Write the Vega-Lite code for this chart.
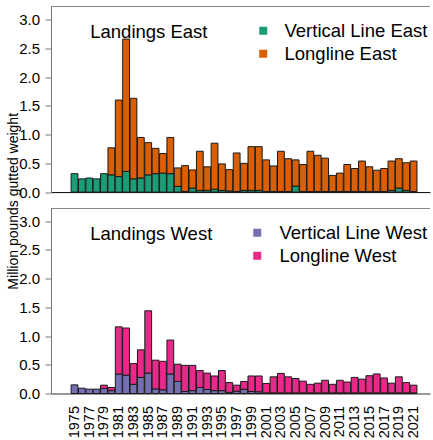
{
  "$schema": "https://vega.github.io/schema/vega-lite/v6.json",
  "padding": {"left": 6, "top": 5.5, "right": 0, "bottom": 0},
  "bounds": "flush",
  "spacing": 16,
  "config": {
    "view": {"stroke": null},
    "font": "Liberation Sans",
    "axis": {"grid": false, "labelColor": "#000", "titleColor": "#000", "titleFontWeight": "normal"}
  },
  "datasets": {
    "east": [
      {"year": 1975, "gear": "Vertical Line East", "value": 0.32},
      {"year": 1976, "gear": "Vertical Line East", "value": 0.23},
      {"year": 1977, "gear": "Vertical Line East", "value": 0.245},
      {"year": 1978, "gear": "Vertical Line East", "value": 0.23},
      {"year": 1979, "gear": "Vertical Line East", "value": 0.32},
      {"year": 1980, "gear": "Vertical Line East", "value": 0.30},
      {"year": 1980, "gear": "Longline East", "value": 0.47},
      {"year": 1981, "gear": "Vertical Line East", "value": 0.27},
      {"year": 1981, "gear": "Longline East", "value": 1.33},
      {"year": 1982, "gear": "Vertical Line East", "value": 0.36},
      {"year": 1982, "gear": "Longline East", "value": 2.30},
      {"year": 1983, "gear": "Vertical Line East", "value": 0.23},
      {"year": 1983, "gear": "Longline East", "value": 1.40},
      {"year": 1984, "gear": "Vertical Line East", "value": 0.245},
      {"year": 1984, "gear": "Longline East", "value": 0.705},
      {"year": 1985, "gear": "Vertical Line East", "value": 0.30},
      {"year": 1985, "gear": "Longline East", "value": 0.56},
      {"year": 1986, "gear": "Vertical Line East", "value": 0.32},
      {"year": 1986, "gear": "Longline East", "value": 0.44},
      {"year": 1987, "gear": "Vertical Line East", "value": 0.33},
      {"year": 1987, "gear": "Longline East", "value": 0.34},
      {"year": 1988, "gear": "Vertical Line East", "value": 0.32},
      {"year": 1988, "gear": "Longline East", "value": 0.63},
      {"year": 1989, "gear": "Vertical Line East", "value": 0.10},
      {"year": 1989, "gear": "Longline East", "value": 0.32},
      {"year": 1990, "gear": "Vertical Line East", "value": 0.01},
      {"year": 1990, "gear": "Longline East", "value": 0.45},
      {"year": 1991, "gear": "Vertical Line East", "value": 0.07},
      {"year": 1991, "gear": "Longline East", "value": 0.315},
      {"year": 1992, "gear": "Vertical Line East", "value": 0.03},
      {"year": 1992, "gear": "Longline East", "value": 0.68},
      {"year": 1993, "gear": "Vertical Line East", "value": 0.03},
      {"year": 1993, "gear": "Longline East", "value": 0.41},
      {"year": 1994, "gear": "Vertical Line East", "value": 0.05},
      {"year": 1994, "gear": "Longline East", "value": 0.80},
      {"year": 1995, "gear": "Vertical Line East", "value": 0.03},
      {"year": 1995, "gear": "Longline East", "value": 0.46},
      {"year": 1996, "gear": "Vertical Line East", "value": 0.02},
      {"year": 1996, "gear": "Longline East", "value": 0.37},
      {"year": 1997, "gear": "Vertical Line East", "value": 0.01},
      {"year": 1997, "gear": "Longline East", "value": 0.67},
      {"year": 1998, "gear": "Vertical Line East", "value": 0.03},
      {"year": 1998, "gear": "Longline East", "value": 0.47},
      {"year": 1999, "gear": "Vertical Line East", "value": 0.03},
      {"year": 1999, "gear": "Longline East", "value": 0.76},
      {"year": 2000, "gear": "Vertical Line East", "value": 0.03},
      {"year": 2000, "gear": "Longline East", "value": 0.76},
      {"year": 2001, "gear": "Vertical Line East", "value": 0.01},
      {"year": 2001, "gear": "Longline East", "value": 0.55},
      {"year": 2002, "gear": "Vertical Line East", "value": 0.01},
      {"year": 2002, "gear": "Longline East", "value": 0.445},
      {"year": 2003, "gear": "Vertical Line East", "value": 0.01},
      {"year": 2003, "gear": "Longline East", "value": 0.70},
      {"year": 2004, "gear": "Vertical Line East", "value": 0.01},
      {"year": 2004, "gear": "Longline East", "value": 0.57},
      {"year": 2005, "gear": "Vertical Line East", "value": 0.105},
      {"year": 2005, "gear": "Longline East", "value": 0.455},
      {"year": 2006, "gear": "Vertical Line East", "value": 0.01},
      {"year": 2006, "gear": "Longline East", "value": 0.47},
      {"year": 2007, "gear": "Vertical Line East", "value": 0.01},
      {"year": 2007, "gear": "Longline East", "value": 0.70},
      {"year": 2008, "gear": "Vertical Line East", "value": 0.01},
      {"year": 2008, "gear": "Longline East", "value": 0.63},
      {"year": 2009, "gear": "Vertical Line East", "value": 0.01},
      {"year": 2009, "gear": "Longline East", "value": 0.58},
      {"year": 2010, "gear": "Vertical Line East", "value": 0.01},
      {"year": 2010, "gear": "Longline East", "value": 0.28},
      {"year": 2011, "gear": "Vertical Line East", "value": 0.01},
      {"year": 2011, "gear": "Longline East", "value": 0.32},
      {"year": 2012, "gear": "Vertical Line East", "value": 0.01},
      {"year": 2012, "gear": "Longline East", "value": 0.47},
      {"year": 2013, "gear": "Vertical Line East", "value": 0.01},
      {"year": 2013, "gear": "Longline East", "value": 0.40},
      {"year": 2014, "gear": "Vertical Line East", "value": 0.01},
      {"year": 2014, "gear": "Longline East", "value": 0.53},
      {"year": 2015, "gear": "Vertical Line East", "value": 0.01},
      {"year": 2015, "gear": "Longline East", "value": 0.43},
      {"year": 2016, "gear": "Vertical Line East", "value": 0.01},
      {"year": 2016, "gear": "Longline East", "value": 0.37},
      {"year": 2017, "gear": "Vertical Line East", "value": 0.01},
      {"year": 2017, "gear": "Longline East", "value": 0.40},
      {"year": 2018, "gear": "Vertical Line East", "value": 0.03},
      {"year": 2018, "gear": "Longline East", "value": 0.51},
      {"year": 2019, "gear": "Vertical Line East", "value": 0.07},
      {"year": 2019, "gear": "Longline East", "value": 0.51},
      {"year": 2020, "gear": "Vertical Line East", "value": 0.03},
      {"year": 2020, "gear": "Longline East", "value": 0.48},
      {"year": 2021, "gear": "Vertical Line East", "value": 0.01},
      {"year": 2021, "gear": "Longline East", "value": 0.53}
    ],
    "west": [
      {"year": 1975, "gear": "Vertical Line West", "value": 0.15},
      {"year": 1976, "gear": "Vertical Line West", "value": 0.093},
      {"year": 1977, "gear": "Vertical Line West", "value": 0.076},
      {"year": 1978, "gear": "Vertical Line West", "value": 0.076},
      {"year": 1979, "gear": "Vertical Line West", "value": 0.087},
      {"year": 1979, "gear": "Longline West", "value": 0.058},
      {"year": 1980, "gear": "Vertical Line West", "value": 0.05},
      {"year": 1980, "gear": "Longline West", "value": 0.055},
      {"year": 1981, "gear": "Vertical Line West", "value": 0.34},
      {"year": 1981, "gear": "Longline West", "value": 0.82},
      {"year": 1982, "gear": "Vertical Line West", "value": 0.32},
      {"year": 1982, "gear": "Longline West", "value": 0.82},
      {"year": 1983, "gear": "Vertical Line West", "value": 0.16},
      {"year": 1983, "gear": "Longline West", "value": 0.36},
      {"year": 1984, "gear": "Vertical Line West", "value": 0.28},
      {"year": 1984, "gear": "Longline West", "value": 0.48},
      {"year": 1985, "gear": "Vertical Line West", "value": 0.355},
      {"year": 1985, "gear": "Longline West", "value": 1.085},
      {"year": 1986, "gear": "Vertical Line West", "value": 0.08},
      {"year": 1986, "gear": "Longline West", "value": 0.50},
      {"year": 1987, "gear": "Vertical Line West", "value": 0.064},
      {"year": 1987, "gear": "Longline West", "value": 0.496},
      {"year": 1988, "gear": "Vertical Line West", "value": 0.34},
      {"year": 1988, "gear": "Longline West", "value": 0.59},
      {"year": 1989, "gear": "Vertical Line West", "value": 0.21},
      {"year": 1989, "gear": "Longline West", "value": 0.30},
      {"year": 1990, "gear": "Vertical Line West", "value": 0.035},
      {"year": 1990, "gear": "Longline West", "value": 0.455},
      {"year": 1991, "gear": "Vertical Line West", "value": 0.05},
      {"year": 1991, "gear": "Longline West", "value": 0.44},
      {"year": 1992, "gear": "Vertical Line West", "value": 0.105},
      {"year": 1992, "gear": "Longline West", "value": 0.295},
      {"year": 1993, "gear": "Vertical Line West", "value": 0.07},
      {"year": 1993, "gear": "Longline West", "value": 0.285},
      {"year": 1994, "gear": "Vertical Line West", "value": 0.05},
      {"year": 1994, "gear": "Longline West", "value": 0.255},
      {"year": 1995, "gear": "Vertical Line West", "value": 0.05},
      {"year": 1995, "gear": "Longline West", "value": 0.35},
      {"year": 1996, "gear": "Vertical Line West", "value": 0.02},
      {"year": 1996, "gear": "Longline West", "value": 0.17},
      {"year": 1997, "gear": "Vertical Line West", "value": 0.04},
      {"year": 1997, "gear": "Longline West", "value": 0.105},
      {"year": 1998, "gear": "Vertical Line West", "value": 0.075},
      {"year": 1998, "gear": "Longline West", "value": 0.135},
      {"year": 1999, "gear": "Vertical Line West", "value": 0.035},
      {"year": 1999, "gear": "Longline West", "value": 0.27},
      {"year": 2000, "gear": "Vertical Line West", "value": 0.03},
      {"year": 2000, "gear": "Longline West", "value": 0.275},
      {"year": 2001, "gear": "Vertical Line West", "value": 0.01},
      {"year": 2001, "gear": "Longline West", "value": 0.165},
      {"year": 2002, "gear": "Vertical Line West", "value": 0.01},
      {"year": 2002, "gear": "Longline West", "value": 0.28},
      {"year": 2003, "gear": "Vertical Line West", "value": 0.01},
      {"year": 2003, "gear": "Longline West", "value": 0.34},
      {"year": 2004, "gear": "Vertical Line West", "value": 0.01},
      {"year": 2004, "gear": "Longline West", "value": 0.28},
      {"year": 2005, "gear": "Vertical Line West", "value": 0.01},
      {"year": 2005, "gear": "Longline West", "value": 0.25},
      {"year": 2006, "gear": "Vertical Line West", "value": 0.01},
      {"year": 2006, "gear": "Longline West", "value": 0.205},
      {"year": 2007, "gear": "Vertical Line West", "value": 0.01},
      {"year": 2007, "gear": "Longline West", "value": 0.15},
      {"year": 2008, "gear": "Vertical Line West", "value": 0.01},
      {"year": 2008, "gear": "Longline West", "value": 0.17},
      {"year": 2009, "gear": "Vertical Line West", "value": 0.01},
      {"year": 2009, "gear": "Longline West", "value": 0.22},
      {"year": 2010, "gear": "Vertical Line West", "value": 0.01},
      {"year": 2010, "gear": "Longline West", "value": 0.15},
      {"year": 2011, "gear": "Vertical Line West", "value": 0.01},
      {"year": 2011, "gear": "Longline West", "value": 0.22},
      {"year": 2012, "gear": "Vertical Line West", "value": 0.01},
      {"year": 2012, "gear": "Longline West", "value": 0.19},
      {"year": 2013, "gear": "Vertical Line West", "value": 0.01},
      {"year": 2013, "gear": "Longline West", "value": 0.27},
      {"year": 2014, "gear": "Vertical Line West", "value": 0.01},
      {"year": 2014, "gear": "Longline West", "value": 0.24},
      {"year": 2015, "gear": "Vertical Line West", "value": 0.01},
      {"year": 2015, "gear": "Longline West", "value": 0.30},
      {"year": 2016, "gear": "Vertical Line West", "value": 0.01},
      {"year": 2016, "gear": "Longline West", "value": 0.33},
      {"year": 2017, "gear": "Vertical Line West", "value": 0.01},
      {"year": 2017, "gear": "Longline West", "value": 0.26},
      {"year": 2018, "gear": "Vertical Line West", "value": 0.01},
      {"year": 2018, "gear": "Longline West", "value": 0.17},
      {"year": 2019, "gear": "Vertical Line West", "value": 0.01},
      {"year": 2019, "gear": "Longline West", "value": 0.28},
      {"year": 2020, "gear": "Vertical Line West", "value": 0.01},
      {"year": 2020, "gear": "Longline West", "value": 0.18},
      {"year": 2021, "gear": "Vertical Line West", "value": 0.01},
      {"year": 2021, "gear": "Longline West", "value": 0.135}
    ]
  },
  "vconcat": [
    {
      "width": 379,
      "height": 185.6,
      "layer": [
        {
          "data": {"name": "east"},
          "mark": {"type": "bar", "stroke": "#1a1a1a", "strokeWidth": 1, "width": 6.8},
          "encoding": {
            "x": {"field": "year", "type": "quantitative",
                  "scale": {"domain": [1972.49, 2022.55], "nice": false, "zero": false},
                  "axis": {"labels": false, "ticks": false, "title": null, "domainColor": "#000", "grid": false}},
            "y": {"field": "value", "type": "quantitative", "stack": "zero",
                  "scale": {"domain": [0, 3.226], "nice": false, "zero": true},
                  "axis": {"values": [0, 0.5, 1, 1.5, 2, 2.5, 3], "format": ".1f", "labelFontSize": 15,
                           "labelOverlap": false, "labelFlush": false,
                           "tickColor": "#777", "tickSize": 6, "labelPadding": 5.5, "domainColor": "#777",
                           "title": "Million pounds gutted weight", "titleFontSize": 14,
                           "titleX": -34, "titleY": 194.3, "titleAngle": 270, "titleAlign": "center",
                           "titleBaseline": "alphabetic"}},
            "color": {"field": "gear", "type": "nominal",
                      "scale": {"domain": ["Vertical Line East", "Longline East"], "range": ["#1b9e77", "#d95f02"]},
                      "legend": {"orient": "none", "legendX": 203, "legendY": 15, "title": null,
                                 "labelFontSize": 18.5, "labelColor": "#000", "symbolType": "square",
                                 "symbolSize": 64, "symbolStrokeWidth": 0, "labelOffset": 12,
                                 "rowPadding": 4, "padding": 0}},
            "order": {"field": "gear", "sort": "descending"}
          }
        },
        {
          "data": {"values": [{}]},
          "mark": {"type": "rule", "color": "#888", "strokeWidth": 1},
          "encoding": {
            "y": {"datum": 3.226, "type": "quantitative",
                  "axis": {"values": [0, 0.5, 1, 1.5, 2, 2.5, 3], "format": ".1f", "labelFontSize": 15,
                           "labelOverlap": false, "labelFlush": false,
                           "tickColor": "#777", "tickSize": 6, "labelPadding": 5.5, "domainColor": "#777",
                           "title": "Million pounds gutted weight", "titleFontSize": 14,
                           "titleX": -34, "titleY": 194.3, "titleAngle": 270, "titleAlign": "center",
                           "titleBaseline": "alphabetic"}}
          }
        },
        {
          "data": {"values": [{"label": "Landings East"}]},
          "mark": {"type": "text", "align": "left", "baseline": "alphabetic", "fontSize": 18.5, "color": "#000", "dx": 1},
          "encoding": {
            "x": {"datum": 1977, "type": "quantitative",
                  "axis": {"labels": false, "ticks": false, "title": null, "domainColor": "#000", "grid": false}},
            "y": {"datum": 2.68, "type": "quantitative",
                  "axis": {"values": [0, 0.5, 1, 1.5, 2, 2.5, 3], "format": ".1f", "labelFontSize": 15,
                           "labelOverlap": false, "labelFlush": false,
                           "tickColor": "#777", "tickSize": 6, "labelPadding": 5.5, "domainColor": "#777",
                           "title": "Million pounds gutted weight", "titleFontSize": 14,
                           "titleX": -34, "titleY": 194.3, "titleAngle": 270, "titleAlign": "center",
                           "titleBaseline": "alphabetic"}},
            "text": {"field": "label"}
          }
        }
      ]
    },
    {
      "width": 379,
      "height": 185,
      "layer": [
        {
          "data": {"name": "west"},
          "mark": {"type": "bar", "stroke": "#1a1a1a", "strokeWidth": 1, "width": 6.8},
          "encoding": {
            "x": {"field": "year", "type": "quantitative",
                  "scale": {"domain": [1972.49, 2022.55], "nice": false, "zero": false},
                  "axis": {"values": [1975, 1977, 1979, 1981, 1983, 1985, 1987, 1989, 1991, 1993, 1995, 1997, 1999, 2001, 2003, 2005, 2007, 2009, 2011, 2013, 2015, 2017, 2019, 2021],
                           "format": "d", "labelAngle": 270, "labelFontSize": 14.5, "ticks": false, "tickSize": 0,
                           "labelOverlap": false, "labelFlush": false, "labelPadding": 12, "domainColor": "#333",
                           "title": null, "grid": false}},
            "y": {"field": "value", "type": "quantitative", "stack": "zero",
                  "scale": {"domain": [0, 3.22], "nice": false, "zero": true},
                  "axis": {"values": [0, 0.5, 1, 1.5, 2, 2.5, 3], "format": ".1f", "labelFontSize": 15,
                           "labelOverlap": false, "labelFlush": false,
                           "tickColor": "#777", "tickSize": 6, "labelPadding": 5.5, "domainColor": "#777",
                           "title": null}},
            "color": {"field": "gear", "type": "nominal",
                      "scale": {"domain": ["Vertical Line West", "Longline West"], "range": ["#7570b3", "#e7298a"]},
                      "legend": {"orient": "none", "legendX": 197, "legendY": 15, "title": null,
                                 "labelFontSize": 18.5, "labelColor": "#000", "symbolType": "square",
                                 "symbolSize": 64, "symbolStrokeWidth": 0, "labelOffset": 13,
                                 "rowPadding": 4, "padding": 0}},
            "order": {"field": "gear", "sort": "descending"}
          }
        },
        {
          "data": {"values": [{}]},
          "mark": {"type": "rule", "color": "#888", "strokeWidth": 1},
          "encoding": {
            "y": {"datum": 3.22, "type": "quantitative",
                  "axis": {"values": [0, 0.5, 1, 1.5, 2, 2.5, 3], "format": ".1f", "labelFontSize": 15,
                           "labelOverlap": false, "labelFlush": false,
                           "tickColor": "#777", "tickSize": 6, "labelPadding": 5.5, "domainColor": "#777",
                           "title": null}}
          }
        },
        {
          "data": {"values": [{"label": "Landings West"}]},
          "mark": {"type": "text", "align": "left", "baseline": "alphabetic", "fontSize": 18.5, "color": "#000", "dx": 1},
          "encoding": {
            "x": {"datum": 1977, "type": "quantitative",
                  "axis": {"values": [1975, 1977, 1979, 1981, 1983, 1985, 1987, 1989, 1991, 1993, 1995, 1997, 1999, 2001, 2003, 2005, 2007, 2009, 2011, 2013, 2015, 2017, 2019, 2021],
                           "format": "d", "labelAngle": 270, "labelFontSize": 14.5, "ticks": false, "tickSize": 0,
                           "labelOverlap": false, "labelFlush": false, "labelPadding": 12, "domainColor": "#333",
                           "title": null, "grid": false}},
            "y": {"datum": 2.68, "type": "quantitative",
                  "axis": {"values": [0, 0.5, 1, 1.5, 2, 2.5, 3], "format": ".1f", "labelFontSize": 15,
                           "labelOverlap": false, "labelFlush": false,
                           "tickColor": "#777", "tickSize": 6, "labelPadding": 5.5, "domainColor": "#777",
                           "title": null}},
            "text": {"field": "label"}
          }
        }
      ]
    }
  ],
  "resolve": {
    "scale": {"color": "independent", "x": "independent", "y": "independent"},
    "legend": {"color": "independent"}
  }
}
